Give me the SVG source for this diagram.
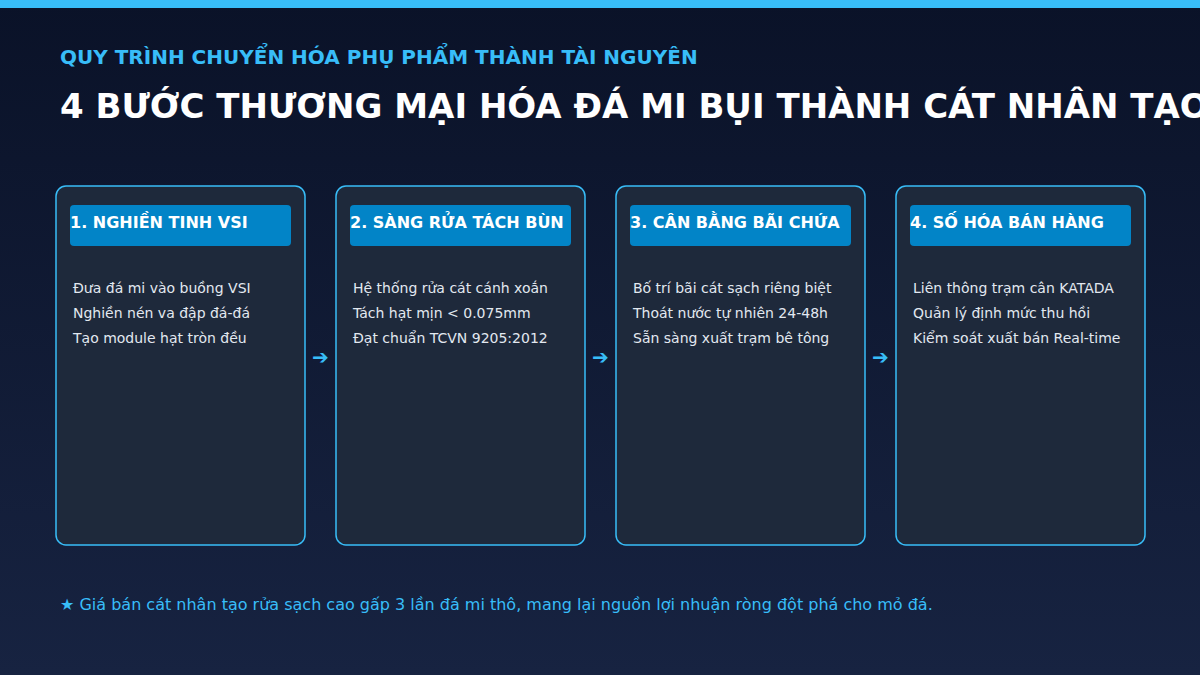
<svg xmlns="http://www.w3.org/2000/svg" width="1200" height="675" viewBox="0 0 1200 675">
  <defs>
    <linearGradient id="bg" x1="0" y1="0" x2="0" y2="1">
      <stop offset="0" stop-color="#0a1228"/>
      <stop offset="1" stop-color="#172341"/>
    </linearGradient>
    <style>
      .card { fill: #1e293b; stroke: #38bdf8; stroke-width: 1.5; }
      .head { fill: #0284c7; }
      .htxt { font-family: "DejaVu Sans", sans-serif; font-weight: bold; font-size: 16px; fill: #ffffff; }
      .btxt { font-family: "DejaVu Sans", sans-serif; font-size: 14px; fill: #e2e8f0; }
      .arrow { font-family: "DejaVu Sans", sans-serif; font-size: 20px; fill: #38bdf8; }
    </style>
  </defs>
  <rect width="1200" height="675" fill="url(#bg)"/>
  <rect width="1200" height="8" fill="#38bdf8"/>
  <text x="60" y="64" font-family="DejaVu Sans, sans-serif" font-weight="bold" font-size="20" fill="#38bdf8">QUY TRÌNH CHUYỂN HÓA PHỤ PHẨM THÀNH TÀI NGUYÊN</text>
  <text x="60" y="118" font-family="DejaVu Sans, sans-serif" font-weight="bold" font-size="34" fill="#ffffff">4 BƯỚC THƯƠNG MẠI HÓA ĐÁ MI BỤI THÀNH CÁT NHÂN TẠO</text>

  <g id="step1">
    <rect class="card" x="56" y="186" width="249" height="359" rx="10"/>
    <rect class="head" x="70" y="205" width="221" height="41" rx="4"/>
    <text class="htxt" x="70" y="228">1. NGHIỀN TINH VSI</text>
    <text class="btxt" x="73" y="293">Đưa đá mi vào buồng VSI</text>
    <text class="btxt" x="73" y="318">Nghiền nén va đập đá-đá</text>
    <text class="btxt" x="73" y="343">Tạo module hạt tròn đều</text>
  </g>
  <g id="step2">
    <rect class="card" x="336" y="186" width="249" height="359" rx="10"/>
    <rect class="head" x="350" y="205" width="221" height="41" rx="4"/>
    <text class="htxt" x="350" y="228">2. SÀNG RỬA TÁCH BÙN</text>
    <text class="btxt" x="353" y="293">Hệ thống rửa cát cánh xoắn</text>
    <text class="btxt" x="353" y="318">Tách hạt mịn &lt; 0.075mm</text>
    <text class="btxt" x="353" y="343">Đạt chuẩn TCVN 9205:2012</text>
  </g>
  <g id="step3">
    <rect class="card" x="616" y="186" width="249" height="359" rx="10"/>
    <rect class="head" x="630" y="205" width="221" height="41" rx="4"/>
    <text class="htxt" x="630" y="228">3. CÂN BẰNG BÃI CHỨA</text>
    <text class="btxt" x="633" y="293">Bố trí bãi cát sạch riêng biệt</text>
    <text class="btxt" x="633" y="318">Thoát nước tự nhiên 24-48h</text>
    <text class="btxt" x="633" y="343">Sẵn sàng xuất trạm bê tông</text>
  </g>
  <g id="step4">
    <rect class="card" x="896" y="186" width="249" height="359" rx="10"/>
    <rect class="head" x="910" y="205" width="221" height="41" rx="4"/>
    <text class="htxt" x="910" y="228">4. SỐ HÓA BÁN HÀNG</text>
    <text class="btxt" x="913" y="293">Liên thông trạm cân KATADA</text>
    <text class="btxt" x="913" y="318">Quản lý định mức thu hồi</text>
    <text class="btxt" x="913" y="343">Kiểm soát xuất bán Real-time</text>
  </g>

  <g id="connectors">
    <text class="arrow" x="320.5" y="364" text-anchor="middle">➔</text>
    <text class="arrow" x="600.5" y="364" text-anchor="middle">➔</text>
    <text class="arrow" x="880.5" y="364" text-anchor="middle">➔</text>
  </g>

  <text x="60" y="610" font-family="DejaVu Sans, sans-serif" font-size="16" fill="#38bdf8">★ Giá bán cát nhân tạo rửa sạch cao gấp 3 lần đá mi thô, mang lại nguồn lợi nhuận ròng đột phá cho mỏ đá.</text>
</svg>
